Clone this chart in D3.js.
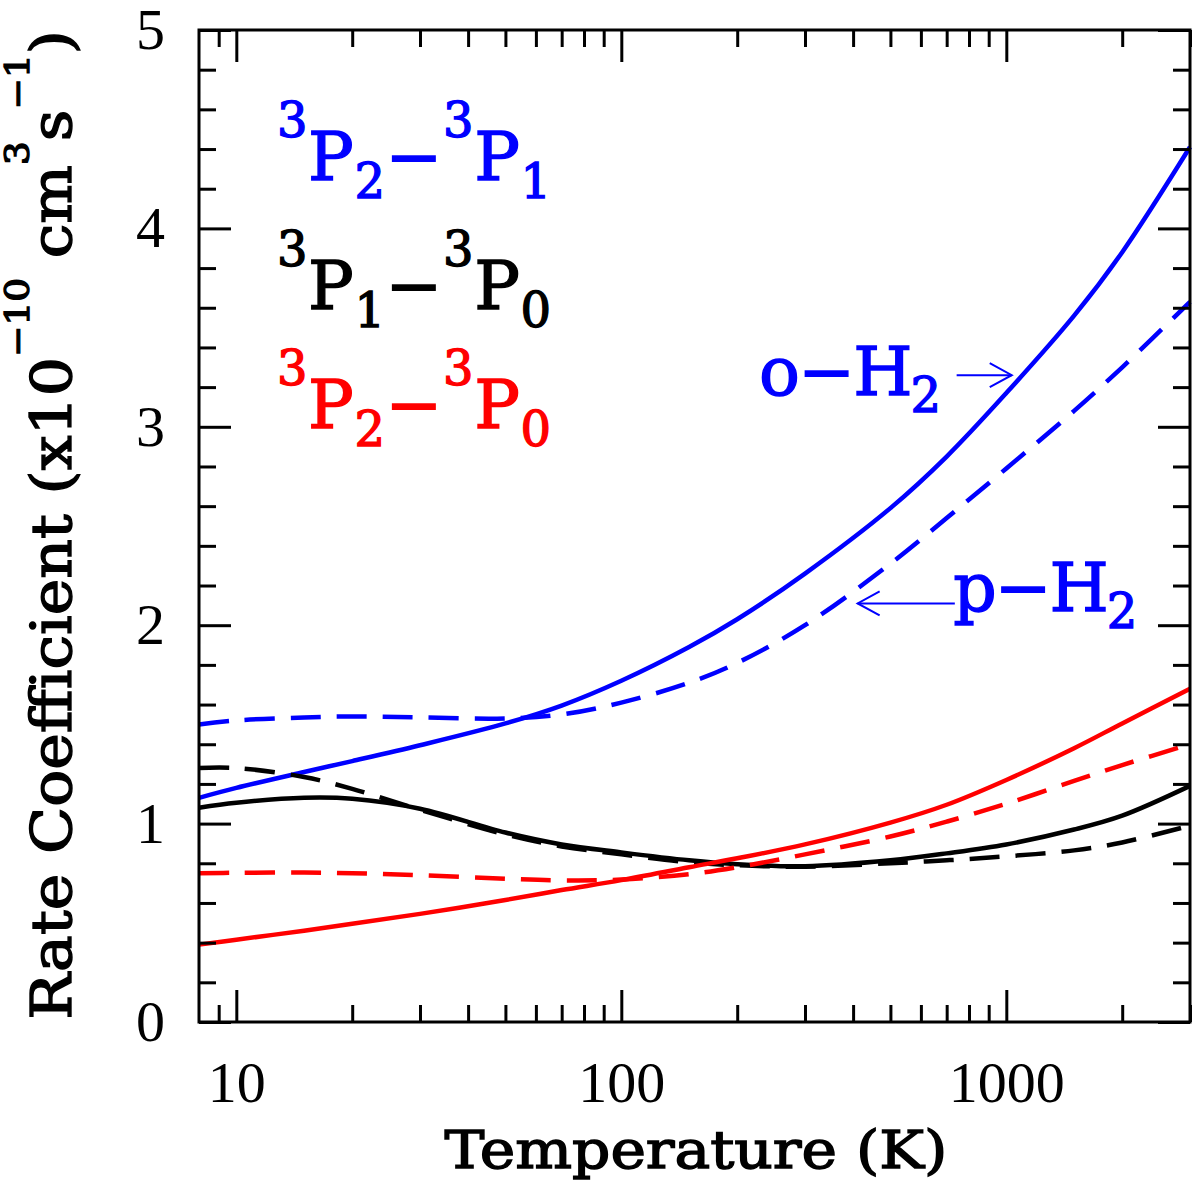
<!DOCTYPE html>
<html><head>
<meta charset="utf-8">
<script src="https://d3js.org/d3.v7.min.js"></script>
<style>
  body { margin: 0; background: #fff; }
  text { font-family: "DejaVu Serif", serif; }
  .tick text { font-family: "Liberation Serif", serif; }
</style>
</head>
<body>
<svg id="chart" width="1200" height="1189"></svg>
<script>

// temperature grid (K) and rate coefficients (x1e-10 cm^3 s^-1)
const temps = [8, 10, 15, 20, 30, 50, 70, 100, 150, 200, 300, 500, 700, 1000, 1500, 2000, 3000];
const oH2_21 = [1.13, 1.18, 1.26, 1.315, 1.395, 1.505, 1.595, 1.72, 1.89, 2.03, 2.26, 2.59, 2.85, 3.17, 3.56, 3.88, 4.41];
const pH2_21 = [1.50, 1.52, 1.535, 1.54, 1.535, 1.53, 1.55, 1.61, 1.71, 1.81, 2.00, 2.31, 2.54, 2.79, 3.08, 3.30, 3.63];
const oH2_10 = [1.08, 1.105, 1.13, 1.125, 1.075, 0.955, 0.895, 0.855, 0.815, 0.795, 0.785, 0.815, 0.85, 0.895, 0.97, 1.04, 1.19];
const pH2_10 = [1.28, 1.28, 1.235, 1.175, 1.07, 0.945, 0.885, 0.845, 0.805, 0.79, 0.783, 0.80, 0.815, 0.835, 0.865, 0.905, 0.99];
const oH2_20 = [0.39, 0.415, 0.46, 0.495, 0.545, 0.615, 0.665, 0.715, 0.78, 0.825, 0.895, 1.005, 1.095, 1.22, 1.38, 1.505, 1.68];
const pH2_20 = [0.75, 0.752, 0.753, 0.75, 0.74, 0.722, 0.714, 0.718, 0.745, 0.78, 0.845, 0.935, 1.01, 1.10, 1.215, 1.295, 1.40];

const xMajor = [10, 100, 1000];
const xMinor = [9, 20, 30, 40, 50, 60, 70, 80, 90, 200, 300, 400, 500, 600, 700, 800, 900, 2000, 3000];
const yMajor = [0, 1, 2, 3, 4, 5];

const series = [
  {vals: oH2_21, color: "#0000ff", dashed: false},
  {vals: pH2_21, color: "#0000ff", dashed: true},
  {vals: oH2_10, color: "#000000", dashed: false},
  {vals: pH2_10, color: "#000000", dashed: true},
  {vals: oH2_20, color: "#ff0000", dashed: false},
  {vals: pH2_20, color: "#ff0000", dashed: true}
];

let svg = d3.select("svg#chart");
let plotL = 199, plotR = 1190, plotT = 30, plotB = 1022;

let x = d3.scaleLog().domain([8, 3000]).range([plotL, plotR]);
let y = d3.scaleLinear().domain([0, 5]).range([plotB, plotT]);

// curves
let line = d3.line()
  .x(d => x(d[0]))
  .y(d => y(d[1]))
  .curve(d3.curveCatmullRom.alpha(0.5));

let curves = svg.append("g");
series.forEach(s => {
  curves.append("path")
    .attr("d", line(temps.map((t, i) => [t, s.vals[i]])))
    .attr("fill", "none")
    .attr("stroke", s.color)
    .attr("stroke-width", 4.5)
    .attr("stroke-dasharray", s.dashed ? "30,16" : null);
});

// axes: inward ticks on all four sides
function addAxis(axis, tx, ty) {
  let g = svg.append("g").attr("transform", "translate(" + tx + "," + ty + ")").call(axis);
  g.select(".domain").remove();
  g.selectAll(".tick line").attr("stroke", "#000").attr("stroke-width", 3);
  return g;
}

let xb = addAxis(d3.axisBottom(x).tickValues(xMajor).tickSize(-32).tickPadding(39).tickFormat(d3.format("d")), 0, plotB);
xb.selectAll("text").attr("font-size", 58).attr("fill", "#000");
addAxis(d3.axisBottom(x).tickValues(xMinor).tickSize(-17).tickFormat(""), 0, plotB);
addAxis(d3.axisTop(x).tickValues(xMajor).tickSize(-32).tickFormat(""), 0, plotT);
addAxis(d3.axisTop(x).tickValues(xMinor).tickSize(-17).tickFormat(""), 0, plotT);

let yMinor = d3.range(0, 5.001, 0.2).filter(v => Math.abs(v - Math.round(v)) > 0.01);
let yl = addAxis(d3.axisLeft(y).tickValues(yMajor).tickSize(-32).tickPadding(34).tickFormat(d3.format("d")), plotL, 0);
yl.selectAll("text").attr("font-size", 58).attr("fill", "#000");
addAxis(d3.axisLeft(y).tickValues(yMinor).tickSize(-17).tickFormat(""), plotL, 0);
addAxis(d3.axisRight(y).tickValues(yMajor).tickSize(-32).tickFormat(""), plotR, 0);
addAxis(d3.axisRight(y).tickValues(yMinor).tickSize(-17).tickFormat(""), plotR, 0);

svg.append("rect")
  .attr("x", plotL).attr("y", plotT)
  .attr("width", plotR - plotL).attr("height", plotB - plotT)
  .attr("fill", "none").attr("stroke", "#000").attr("stroke-width", 3);

// text with sub/superscripts, slightly thickened like the original
function richText(g, px, py, parts, size, small, color, supOff, subOff) {
  let t = g.append("text").attr("x", px).attr("y", py)
    .attr("fill", color).attr("stroke", color).attr("stroke-width", 1.4)
    .attr("font-size", size);
  let cur = 0;
  parts.forEach(p => {
    let off = p[1] === "sup" ? supOff : (p[1] === "sub" ? subOff : 0);
    t.append("tspan")
      .attr("dy", off - cur)
      .attr("font-size", p[1] ? small : size)
      .text(p[0]);
    cur = off;
  });
  return t;
}

// legend
let legend = svg.append("g");
const legendRows = [
  {parts: [["3", "sup"], ["P"], ["2", "sub"], ["\u2212"], ["3", "sup"], ["P"], ["1", "sub"]], color: "#0000ff", base: 180},
  {parts: [["3", "sup"], ["P"], ["1", "sub"], ["\u2212"], ["3", "sup"], ["P"], ["0", "sub"]], color: "#000000", base: 309},
  {parts: [["3", "sup"], ["P"], ["2", "sub"], ["\u2212"], ["3", "sup"], ["P"], ["0", "sub"]], color: "#ff0000", base: 428}
];
legendRows.forEach(r => {
  richText(legend, 277, r.base, r.parts, 68, 48, r.color, -43, 18)
    .attr("textLength", 274).attr("lengthAdjust", "spacing");
});

// o-H2 / p-H2 annotations with arrows
function arrow(t0, t1, v) {
  let x0 = x(t0), x1 = x(t1), yy = y(v);
  let dir = x1 > x0 ? 1 : -1;
  svg.append("line").attr("x1", x0).attr("y1", yy).attr("x2", x1).attr("y2", yy)
    .attr("stroke", "#0000ff").attr("stroke-width", 2);
  svg.append("polyline")
    .attr("points", [[x1 - dir * 22, yy - 12], [x1, yy], [x1 - dir * 22, yy + 12]].join(" "))
    .attr("fill", "none").attr("stroke", "#0000ff").attr("stroke-width", 2);
}
richText(svg, x(228), y(3.16), [["o\u2212H"], ["2", "sub"]], 68, 48, "#0000ff", 0, 17)
  .attr("textLength", 182).attr("lengthAdjust", "spacing");
arrow(743, 1033, 3.26);
richText(svg, x(728), y(2.07), [["p\u2212H"], ["2", "sub"]], 68, 48, "#0000ff", 0, 17)
  .attr("textLength", 184).attr("lengthAdjust", "spacing");
arrow(735, 411, 2.11);

// axis titles
svg.append("text")
  .attr("x", 696).attr("y", 1168)
  .attr("text-anchor", "middle")
  .attr("font-size", 52)
  .attr("stroke", "#000").attr("stroke-width", 1.4)
  .attr("textLength", 503)
  .attr("lengthAdjust", "spacingAndGlyphs")
  .text("Temperature (K)");

let ytitle = svg.append("g");
let yt = richText(ytitle, 0, 0,
  [["Rate Coefficient (x10"], ["\u221210", "sup"], [" cm"], ["3", "sup"], ["s"], ["\u22121", "sup"], [")"]],
  56, 34, "#000", -42, 0);
yt.attr("text-anchor", "middle");
let w = yt.node().getComputedTextLength();
ytitle.attr("transform", "translate(71,525) rotate(-90) scale(" + (990 / w) + ",1)");

</script>
</body>
</html>
